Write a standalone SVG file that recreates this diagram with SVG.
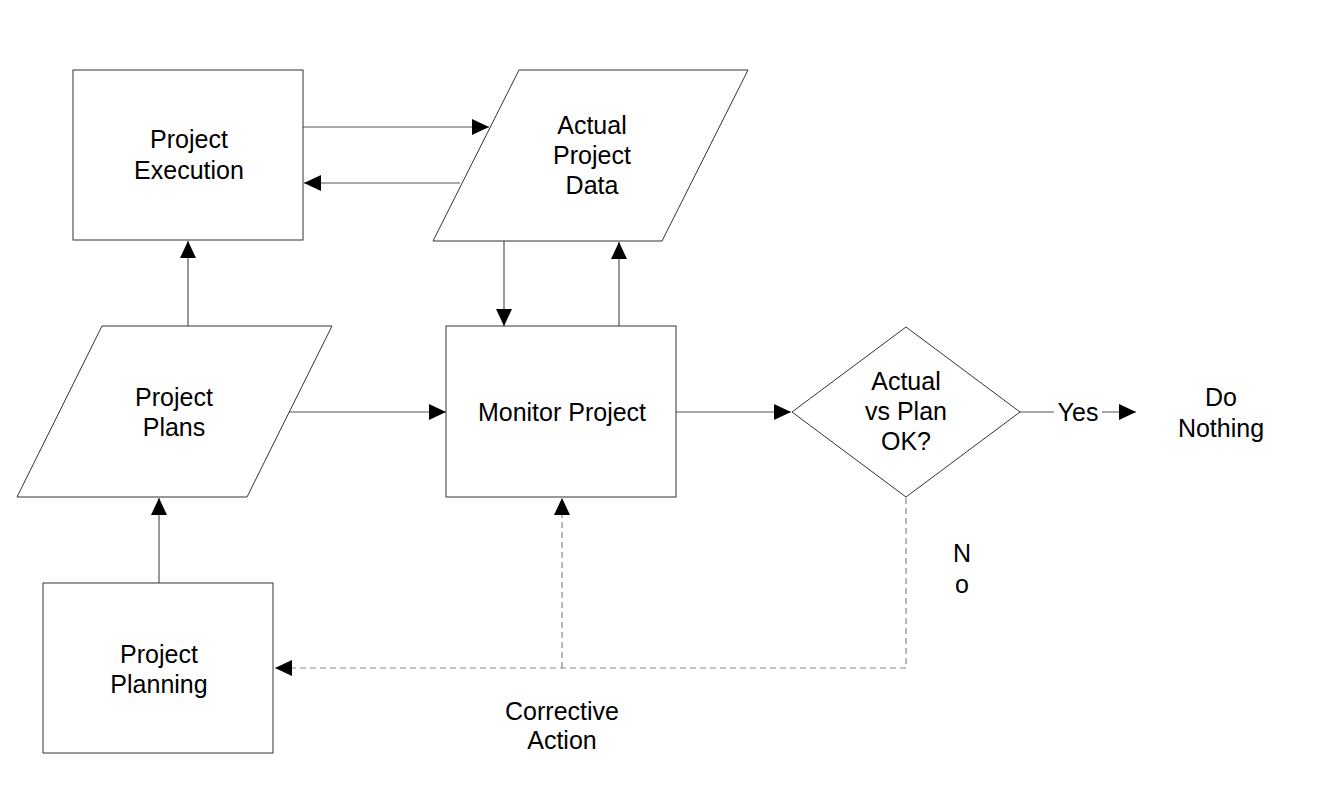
<svg xmlns="http://www.w3.org/2000/svg" width="1334" height="802" viewBox="0 0 1334 802">
<defs>
<marker id="arr" markerUnits="userSpaceOnUse" markerWidth="18" markerHeight="16" refX="17" refY="8" orient="auto">
<path d="M0,0 L17,8 L0,16 Z" fill="#000"/>
</marker>
<style>
.shape{fill:#fff;stroke:#333;stroke-width:1}
.conn{fill:none;stroke:#555;stroke-width:1.2}
.dash{fill:none;stroke:#888;stroke-width:1.2;stroke-dasharray:6,4}
text{font-family:"Liberation Sans",Arial,sans-serif;font-size:25px;fill:#000;text-anchor:middle}
</style>
</defs>
<rect width="1334" height="802" fill="#fff"/>
<g id="connectors">
<line class="conn" x1="303" y1="127" x2="489" y2="127" marker-end="url(#arr)"/>
<line class="conn" x1="460" y1="183" x2="304" y2="183" marker-end="url(#arr)"/>
<line class="conn" x1="188" y1="326" x2="188" y2="241" marker-end="url(#arr)"/>
<line class="conn" x1="159" y1="583" x2="159" y2="498" marker-end="url(#arr)"/>
<line class="conn" x1="289" y1="412" x2="446" y2="412" marker-end="url(#arr)"/>
<line class="conn" x1="504" y1="241" x2="504" y2="326" marker-end="url(#arr)"/>
<line class="conn" x1="619" y1="326" x2="619" y2="242" marker-end="url(#arr)"/>
<line class="conn" x1="676" y1="412" x2="791" y2="412" marker-end="url(#arr)"/>
<line class="conn" x1="1020" y1="412" x2="1054" y2="412"/>
<line class="conn" x1="1102" y1="412" x2="1136" y2="412" marker-end="url(#arr)"/>
<polyline class="dash" points="906,498 906,668 275,668" marker-end="url(#arr)"/>
<line class="dash" x1="562" y1="668" x2="562" y2="498" marker-end="url(#arr)"/>
<text x="1078" y="421">Yes</text>
<text x="962" y="562">N</text>
<text x="962" y="593">o</text>
<text x="562" y="720">Corrective</text>
<text x="562" y="749">Action</text>
</g>
<g id="project-execution">
<rect class="shape" x="73" y="70" width="230" height="170"/>
<text x="189" y="148">Project</text>
<text x="189" y="179">Execution</text>
</g>
<g id="actual-project-data">
<polygon class="shape" points="519,70 748,70 662,241 433,241"/>
<text x="592" y="134">Actual</text>
<text x="592" y="164">Project</text>
<text x="592" y="194">Data</text>
</g>
<g id="project-plans">
<polygon class="shape" points="102,326 332,326 247,497 17,497"/>
<text x="174" y="406">Project</text>
<text x="174" y="436">Plans</text>
</g>
<g id="monitor-project">
<rect class="shape" x="446" y="326" width="230" height="171"/>
<text x="562" y="421">Monitor Project</text>
</g>
<g id="decision">
<polygon class="shape" points="906,327 1020,412 906,497 792,412"/>
<text x="906" y="390">Actual</text>
<text x="906" y="420">vs Plan</text>
<text x="906" y="450">OK?</text>
</g>
<g id="do-nothing">
<text x="1221" y="406">Do</text>
<text x="1221" y="437">Nothing</text>
</g>
<g id="project-planning">
<rect class="shape" x="43" y="583" width="230" height="170"/>
<text x="159" y="663">Project</text>
<text x="159" y="693">Planning</text>
</g>
</svg>
